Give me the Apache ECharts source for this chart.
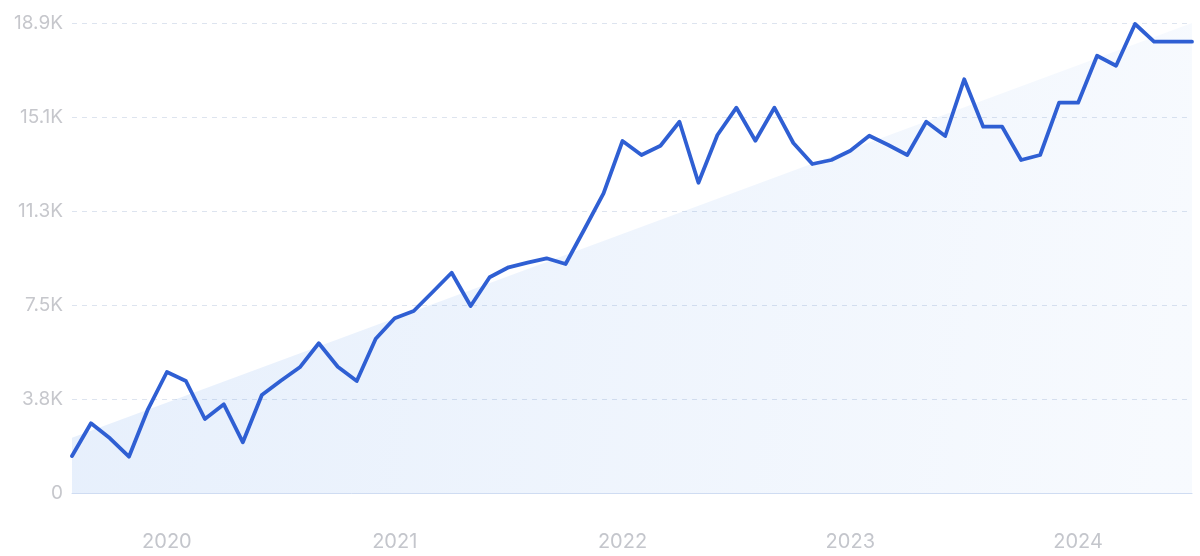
<!DOCTYPE html>
<html>
<head>
<meta charset="utf-8">
<style>
  html, body { margin: 0; padding: 0; background: #ffffff; }
  #chart { width: 1200px; height: 556px; }
</style>
<script src="https://cdn.jsdelivr.net/npm/echarts@6/dist/echarts.min.js"></script>
</head>
<body>
<div id="chart"></div>
<script>
// Monthly categories: Aug 2019 .. Jul 2024
const months = [
  '2019-08','2019-09','2019-10','2019-11','2019-12',
  '2020-01','2020-02','2020-03','2020-04','2020-05','2020-06','2020-07','2020-08','2020-09','2020-10','2020-11','2020-12',
  '2021-01','2021-02','2021-03','2021-04','2021-05','2021-06','2021-07','2021-08','2021-09','2021-10','2021-11','2021-12',
  '2022-01','2022-02','2022-03','2022-04','2022-05','2022-06','2022-07','2022-08','2022-09','2022-10','2022-11','2022-12',
  '2023-01','2023-02','2023-03','2023-04','2023-05','2023-06','2023-07','2023-08','2023-09','2023-10','2023-11','2023-12',
  '2024-01','2024-02','2024-03','2024-04','2024-05','2024-06','2024-07'
];

// Search volume values
const volume = [
  1484, 2795, 2194, 1456, 3357,
  4853, 4492, 2968, 3557, 2033, 3930, 4504, 5041, 6004, 5065, 4492, 6188,
  7007, 7299, 8061, 8835, 7500, 8651, 9052, 9236, 9413, 9184, 10588, 12020,
  14117, 13556, 13929, 14891, 12445, 14358, 15453, 14129, 15453, 14037, 13195, 13355,
  13728, 14330, 13957, 13556, 14891, 14318, 16592, 14691, 14691, 13355, 13556, 15653,
  15653, 17538, 17137, 18810, 18100, 18100, 18100
];

// Trend line end points (start month, end month)
const trendPoints = [['2019-08', 2220], ['2024-07', 18850]];

// Y tick labels
const yTickLabels = ['0', '3.8K', '7.5K', '11.3K', '15.1K', '18.9K'];
const yInterval = 3770;

const chart = echarts.init(document.getElementById('chart'), null, { renderer: 'canvas' });

chart.setOption({
  animation: false,
  backgroundColor: '#ffffff',
  grid: { left: 72, right: 8, top: 23, bottom: 63, containLabel: false },
  xAxis: {
    type: 'category',
    data: months,
    boundaryGap: false,
    axisLine: { show: true, lineStyle: { color: '#cfdcf2', width: 1 } },
    axisTick: { show: false },
    splitLine: { show: false },
    axisLabel: {
      color: '#c4c6cc',
      fontSize: 20,
      fontFamily: 'Inter, sans-serif',
      margin: 39,
      interval: function (idx, val) { return val.slice(5) === '01'; },
      formatter: function (val) { return val.slice(0, 4); }
    }
  },
  yAxis: {
    type: 'value',
    min: 0,
    max: yInterval * 5,
    interval: yInterval,
    axisLine: { show: false },
    axisTick: { show: false },
    axisLabel: {
      color: '#c6c7cc',
      fontSize: 19,
      fontFamily: 'Inter, sans-serif',
      margin: 9,
      formatter: function (v) { return yTickLabels[Math.round(v / yInterval)]; }
    },
    splitLine: {
      show: true,
      lineStyle: { color: '#dde4ef', type: [5, 5], width: 1 }
    }
  },
  series: [
    {
      name: 'trend',
      type: 'line',
      data: trendPoints,
      symbol: 'none',
      lineStyle: { width: 0, opacity: 0 },
      areaStyle: {
        color: new echarts.graphic.LinearGradient(0, 0, 1, 0.3, [
          { offset: 0, color: 'rgba(59,130,231,0.18)' },
          { offset: 1, color: 'rgba(59,130,231,0.06)' }
        ])
      },
      z: 1,
      silent: true
    },
    {
      name: 'volume',
      type: 'line',
      data: volume,
      symbol: 'none',
      lineStyle: { color: '#2f5fd3', width: 3.8, join: 'round', cap: 'round' },
      z: 3
    }
  ]
});
</script>
</body>
</html>
